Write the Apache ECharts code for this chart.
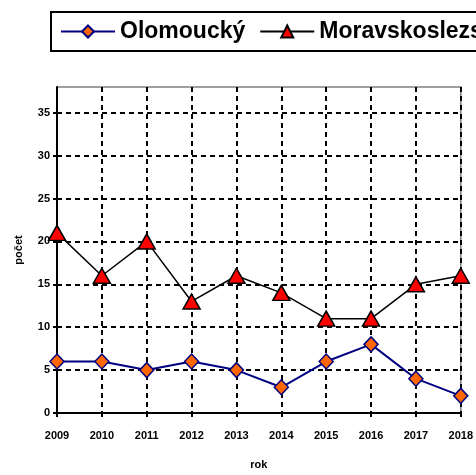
<!DOCTYPE html>
<html>
<head>
<meta charset="utf-8">
<script src="https://cdn.jsdelivr.net/npm/echarts@6/dist/echarts.min.js"></script>
<style>
  html, body { margin: 0; padding: 0; background: #fff; }
  #chart { width: 476px; height: 475px; }
</style>
</head>
<body>
<div id="chart"></div>
<script>
// roky na ose x
const years = ['2009', '2010', '2011', '2012', '2013', '2014', '2015', '2016', '2017', '2018']
// počty podle kraje
const olomoucky = [6, 6, 5, 6, 5, 3, 6, 8, 4, 2]
const moravskoslezsky = [21, 16, 20, 13, 16, 14, 11, 11, 15, 16]
const yMax = 38
const yStep = 5

const font = 'Liberation Sans, Arial, sans-serif'
const dashed = { color: '#000', width: 2, type: [5, 4] }

const myChart = echarts.init(document.getElementById('chart'))
const option = {
  animation: false,
  backgroundColor: '#fff',
  textStyle: { fontFamily: font },
  legend: {
    left: 51,
    top: 12,
    width: 800,
    padding: [8, 9],
    itemGap: 14,
    itemWidth: 54,
    itemHeight: 15,
    borderColor: '#000',
    borderWidth: 2,
    textStyle: { fontFamily: font, fontSize: 23, fontWeight: 'bold', color: '#000' },
    data: ['Olomoucký', 'Moravskoslezský']
  },
  grid: {
    left: 57,
    right: 11,
    top: 87,
    bottom: 57,
    show: true,
    borderColor: '#808080',
    borderWidth: 1.5,
    backgroundColor: '#fff'
  },
  xAxis: {
    type: 'category',
    boundaryGap: false,
    data: years,
    name: 'rok',
    nameLocation: 'middle',
    nameGap: 46,
    nameTextStyle: { fontFamily: font, fontSize: 11, fontWeight: 'bold', color: '#000' },
    axisLine: { lineStyle: { color: '#000', width: 2 } },
    axisTick: { show: true, length: 4, lineStyle: { color: '#000', width: 2 } },
    axisLabel: { margin: 17, fontFamily: font, fontSize: 11, fontWeight: 'bold', color: '#000' },
    splitLine: { show: true, lineStyle: dashed }
  },
  yAxis: {
    type: 'value',
    min: 0,
    max: yMax,
    interval: yStep,
    name: 'počet',
    nameLocation: 'middle',
    nameGap: 33,
    nameTextStyle: { fontFamily: font, fontSize: 11, fontWeight: 'bold', color: '#000' },
    axisLine: { show: true, lineStyle: { color: '#000', width: 2 } },
    axisTick: { show: true, length: 4, lineStyle: { color: '#000', width: 2 } },
    axisLabel: {
      margin: 7,
      showMaxLabel: false,
      fontFamily: font, fontSize: 11, fontWeight: 'bold', color: '#000'
    },
    splitLine: { show: true, showMinLine: false, showMaxLine: false, lineStyle: dashed }
  },
  series: [
    {
      name: 'Olomoucký',
      type: 'line',
      data: olomoucky,
      symbol: 'diamond',
      symbolSize: [14, 15],
      lineStyle: { color: '#000080', width: 2 },
      itemStyle: { color: '#FF6600', borderColor: '#000080', borderWidth: 1.5 },
      z: 3
    },
    {
      name: 'Moravskoslezský',
      type: 'line',
      data: moravskoslezsky,
      symbol: 'triangle',
      symbolSize: [17, 15],
      lineStyle: { color: '#000', width: 1.5 },
      itemStyle: { color: '#FF0000', borderColor: '#000', borderWidth: 1.5 },
      z: 3
    }
  ]
}
myChart.setOption(option)
</script>
</body>
</html>
